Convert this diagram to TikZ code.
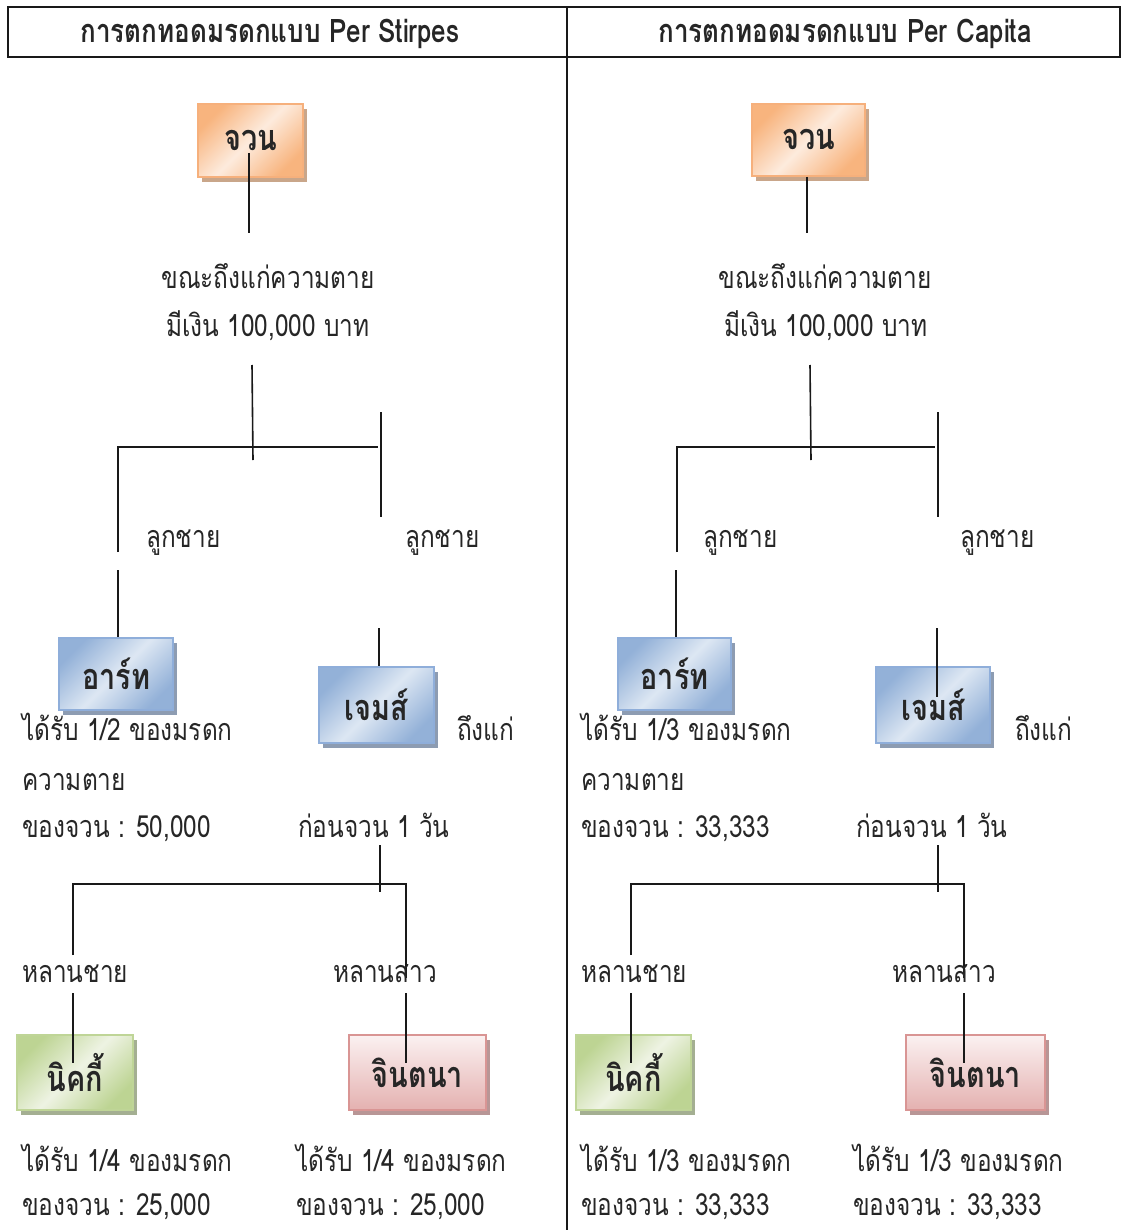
\documentclass[tikz,border=0pt]{standalone}
\usepackage{fontspec}
\setmainfont[Script=Thai, FakeStretch=0.8]{Loma}
\usetikzlibrary{shadows}
\definecolor{orD}{HTML}{F8B47E}
\definecolor{orL}{HTML}{FDEBDD}
\definecolor{orB}{HTML}{F6B07C}
\definecolor{orS}{HTML}{C9A68A}
\definecolor{blD}{HTML}{93B1D8}
\definecolor{blL}{HTML}{DDE7F3}
\definecolor{blB}{HTML}{8FAEDA}
\definecolor{blS}{HTML}{8D9CB2}
\definecolor{grD}{HTML}{BDD493}
\definecolor{grL}{HTML}{EEF3E3}
\definecolor{grB}{HTML}{BFD597}
\definecolor{grS}{HTML}{A4AF92}
\definecolor{rdT}{HTML}{FBF1F1}
\definecolor{rdD}{HTML}{E4B1B0}
\definecolor{rdB}{HTML}{D99594}
\definecolor{rdS}{HTML}{B89696}
\definecolor{txt}{HTML}{262626}
\tikzset{
  person/.style={draw, line width=1.6pt, inner sep=0pt, font=\fontsize{36}{40}\selectfont\bfseries, text=txt},
  orbox/.style={person, draw=orB, left color=orD, right color=orD, middle color=orL, shading angle=45,
     general shadow={fill=orS, shadow xshift=4pt, shadow yshift=-5pt}},
  blbox/.style={person, draw=blB, left color=blD, right color=blD, middle color=blL, shading angle=45,
     general shadow={fill=blS, shadow xshift=4pt, shadow yshift=-5pt}},
  grbox/.style={person, draw=grB, left color=grD, right color=grD, middle color=grL, shading angle=45,
     general shadow={fill=grS, shadow xshift=4pt, shadow yshift=-5pt}},
  rdbox/.style={person, draw=rdB, top color=rdT, bottom color=rdD,
     general shadow={fill=rdS, shadow xshift=4pt, shadow yshift=-5pt}},
  lbl/.style={inner sep=0pt, font=\fontsize{30.5}{34}\selectfont, text=txt},
  lastlbl/.style={lbl, text depth=0pt},
  ttl/.style={inner sep=0pt, font=\fontsize{32.5}{36}\selectfont\bfseries, text=txt},
  conn/.style={line width=1.6pt, black!90},
  frame/.style={line width=1.6pt, black!90}
}
\begin{document}
\begin{tikzpicture}[x=1pt,y=-1pt]
\useasboundingbox (0,0) rectangle (1122,1230);
% frame
\draw[frame] (8,7) rectangle (1120,57);
\draw[frame] (567,7) -- (567,1230);
\node[ttl, anchor=base] (t1) at (270,43) {การตกทอดมรดกแบบ Per Stirpes};
\node[ttl, anchor=base] (t2) at (845,43) {การตกทอดมรดกแบบ Per Capita};

% ================= LEFT =================
\node[orbox, minimum width=105pt, minimum height=73pt] (joanL) at (250.5,140.5) {จวน};
\node[lbl, anchor=base] (dieL) at (268,288) {ขณะถึงแก่ความตาย};
\node[lbl, anchor=base] (moneyL) at (268,336) {มีเงิน 100,000 บาท};
\coordinate (jL1) at (249,153);
\coordinate (jL2) at (249,233);
\draw[conn] (jL1) -- (jL2);
\coordinate (vL1) at (252,365);
\coordinate (vL2) at (253,460);
\draw[conn] (vL1) -- (vL2);
\coordinate (hLa) at (118,447);
\coordinate (hLb) at (378,447);
\coordinate (hLc) at (118,552);
\draw[conn] (hLc) -- (hLa) -- (hLb);
\coordinate (rL1) at (381,412);
\coordinate (rL2) at (381,517);
\draw[conn] (rL1) -- (rL2);
\node[lbl, anchor=base west] (sonL1) at (146,547) {ลูกชาย};
\node[lbl, anchor=base west] (sonL2) at (405,547) {ลูกชาย};

\node[blbox, minimum width=114pt, minimum height=72pt] (artL) at (116,674) {อาร์ท};
\node[blbox, minimum width=115pt, minimum height=76pt] (jamesL) at (376.5,705) {เจมส์};
\coordinate (aL1) at (118,570);
\draw[conn] (aL1) -- (artL.north -| aL1);
\coordinate (mL1) at (379,628);
\draw[conn] (mL1) -- (jamesL.north -| mL1);
\node[lbl, anchor=base west] (artL1) at (22,740) {ได้รับ 1/2 ของมรดก};
\node[lbl, anchor=base west] (artL2) at (22,790) {ความตาย};
\node[lbl, anchor=base west] (artL3) at (22,837) {ของจวน : 50,000};
\node[lbl, anchor=base west] (jmL1) at (457,740) {ถึงแก่};
\node[lbl, anchor=base west] (jmL2) at (298,837) {ก่อนจวน 1 วัน};

\coordinate (gL1) at (380,845);
\coordinate (gL2) at (380,892);
\draw[conn] (gL1) -- (gL2);
\coordinate (gLa) at (73,955);
\coordinate (gLb) at (73,884);
\coordinate (gLc) at (406,884);
\coordinate (gLd) at (406,978);
\draw[conn] (gLa) -- (gLb) -- (gLc) -- (gLd);
\node[lbl, anchor=base west] (gsL) at (22,982) {หลานชาย};
\node[lbl, anchor=base west] (gdL) at (333,982) {หลานสาว};

\node[grbox, minimum width=116pt, minimum height=75pt] (nikL) at (75,1072.5) {นิคกี้};
\node[rdbox, minimum width=137pt, minimum height=75pt] (jinL) at (417.5,1072.5) {จินตนา};
\coordinate (nL1) at (73,993);
\coordinate (nL2) at (73,1063);
\draw[conn] (nL1) -- (nL2);
\coordinate (kL1) at (406,993);
\coordinate (kL2) at (406,1063);
\draw[conn] (kL1) -- (kL2);
\node[lbl, anchor=base west] (nkL1) at (22,1171) {ได้รับ 1/4 ของมรดก};
\node[lastlbl, anchor=base west] (nkL2) at (22,1215) {ของจวน : 25,000};
\node[lbl, anchor=base west] (jnL1) at (296,1171) {ได้รับ 1/4 ของมรดก};
\node[lastlbl, anchor=base west] (jnL2) at (296,1215) {ของจวน : 25,000};

% ================= RIGHT =================
\node[orbox, minimum width=113pt, minimum height=72pt] (joanR) at (808.5,140) {จวน};
\node[lbl, anchor=base] (dieR) at (825,288) {ขณะถึงแก่ความตาย};
\node[lbl, anchor=base] (moneyR) at (826,336) {มีเงิน 100,000 บาท};
\coordinate (jR2) at (807,233);
\draw[conn] (joanR.south -| jR2) -- (jR2);
\coordinate (vR1) at (810,365);
\coordinate (vR2) at (811,460);
\draw[conn] (vR1) -- (vR2);
\coordinate (hRa) at (677,447);
\coordinate (hRb) at (935,447);
\coordinate (hRc) at (677,552);
\draw[conn] (hRc) -- (hRa) -- (hRb);
\coordinate (rR1) at (938,412);
\coordinate (rR2) at (938,517);
\draw[conn] (rR1) -- (rR2);
\node[lbl, anchor=base west] (sonR1) at (703,547) {ลูกชาย};
\node[lbl, anchor=base west] (sonR2) at (960,547) {ลูกชาย};

\node[blbox, minimum width=113pt, minimum height=72pt] (artR) at (674.5,674) {อาร์ท};
\node[blbox, minimum width=114pt, minimum height=76pt] (jamesR) at (933,705) {เจมส์};
\coordinate (aR1) at (676,570);
\draw[conn] (aR1) -- (artR.north -| aR1);
\coordinate (mR1) at (937,628);
\coordinate (mR2) at (937,697);
\draw[conn] (mR1) -- (mR2);
\node[lbl, anchor=base west] (artR1) at (581,740) {ได้รับ 1/3 ของมรดก};
\node[lbl, anchor=base west] (artR2) at (581,790) {ความตาย};
\node[lbl, anchor=base west] (artR3) at (581,837) {ของจวน : 33,333};
\node[lbl, anchor=base west] (jmR1) at (1015,740) {ถึงแก่};
\node[lbl, anchor=base west] (jmR2) at (856,837) {ก่อนจวน 1 วัน};

\coordinate (gR1) at (938,845);
\coordinate (gR2) at (938,892);
\draw[conn] (gR1) -- (gR2);
\coordinate (gRa) at (631,955);
\coordinate (gRb) at (631,884);
\coordinate (gRc) at (964,884);
\coordinate (gRd) at (964,978);
\draw[conn] (gRa) -- (gRb) -- (gRc) -- (gRd);
\node[lbl, anchor=base west] (gsR) at (581,982) {หลานชาย};
\node[lbl, anchor=base west] (gdR) at (892,982) {หลานสาว};

\node[grbox, minimum width=115pt, minimum height=75pt] (nikR) at (633.5,1072.5) {นิคกี้};
\node[rdbox, minimum width=139pt, minimum height=75pt] (jinR) at (975.5,1072.5) {จินตนา};
\coordinate (nR1) at (631,993);
\coordinate (nR2) at (631,1063);
\draw[conn] (nR1) -- (nR2);
\coordinate (kR1) at (964,993);
\coordinate (kR2) at (964,1063);
\draw[conn] (kR1) -- (kR2);
\node[lbl, anchor=base west] (nkR1) at (581,1171) {ได้รับ 1/3 ของมรดก};
\node[lastlbl, anchor=base west] (nkR2) at (581,1215) {ของจวน : 33,333};
\node[lbl, anchor=base west] (jnR1) at (853,1171) {ได้รับ 1/3 ของมรดก};
\node[lastlbl, anchor=base west] (jnR2) at (853,1215) {ของจวน : 33,333};
\end{tikzpicture}
\end{document}
